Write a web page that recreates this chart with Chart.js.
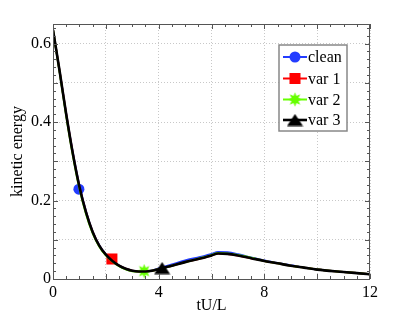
<!DOCTYPE html>
<html>
<head>
<meta charset="utf-8">
<script src="https://cdn.jsdelivr.net/npm/chart.js@4"></script>
<style>
  html, body { margin: 0; padding: 0; background: #fff; }
  #wrap { width: 409px; height: 315px; }
</style>
</head>
<body>
<div id="wrap"><canvas id="ke" width="409" height="315"></canvas></div>
<script>
// time axis (tU/L) and kinetic energy of each run
const tValues = [0, 0.25, 0.5, 0.75, 1.0, 1.25, 1.5, 1.75, 2.0, 2.25, 2.5, 2.75, 3.0, 3.25, 3.5, 3.75, 4.0, 4.5, 5.0, 5.5, 5.8, 6.0, 6.25, 6.6, 7.0, 7.5, 8.0, 8.5, 9.0, 9.5, 10.0, 11.0, 12.0];
const cleanKE = [0.635, 0.53, 0.42, 0.322, 0.238, 0.172, 0.121, 0.086, 0.062, 0.046, 0.034, 0.026, 0.021, 0.019, 0.019, 0.022, 0.027, 0.037, 0.047, 0.055, 0.06, 0.064, 0.069, 0.068, 0.063, 0.055, 0.047, 0.041, 0.035, 0.029, 0.024, 0.018, 0.012];
const var1KE  = [0.635, 0.53, 0.42, 0.32, 0.235, 0.17, 0.12, 0.085, 0.062, 0.046, 0.034, 0.026, 0.021, 0.019, 0.019, 0.021, 0.025, 0.034, 0.043, 0.051, 0.056, 0.060, 0.065, 0.064, 0.060, 0.053, 0.046, 0.040, 0.034, 0.029, 0.024, 0.018, 0.012];
const var2KE  = [0.635, 0.528, 0.416, 0.316, 0.231, 0.166, 0.117, 0.083, 0.060, 0.045, 0.033, 0.025, 0.020, 0.019, 0.019, 0.021, 0.025, 0.034, 0.043, 0.052, 0.057, 0.061, 0.066, 0.065, 0.061, 0.054, 0.046, 0.040, 0.034, 0.029, 0.024, 0.018, 0.012];
const var3KE  = [0.635, 0.53, 0.42, 0.32, 0.235, 0.17, 0.12, 0.085, 0.062, 0.046, 0.034, 0.026, 0.021, 0.019, 0.019, 0.021, 0.025, 0.034, 0.043, 0.051, 0.056, 0.060, 0.065, 0.064, 0.060, 0.053, 0.046, 0.040, 0.034, 0.029, 0.024, 0.018, 0.012];

// one marker per run
const seriesNames = ['clean', 'var 1', 'var 2', 'var 3'];
const markerT  = [0.98, 2.23, 3.45, 4.13];
const markerKE = [0.229, 0.051, 0.020, 0.028];

const xTicks = [0, 4, 8, 12];
const yTicks = [0, 0.2, 0.4, 0.6];

const colors = ['rgb(35,60,255)', 'rgb(255,0,0)', 'rgb(102,255,0)', 'rgb(0,0,0)'];
const FONT = "'Liberation Serif', 'Times New Roman', Times, 'DejaVu Serif', serif";

// custom marker images (star burst + wide triangle)
function makeStar(color) {
    const c = document.createElement('canvas');
    c.width = 15; c.height = 15;
    const g = c.getContext('2d');
    g.fillStyle = color;
    g.beginPath();
    for (let i = 0; i < 16; i++) {
        const r = i % 2 === 0 ? 7.3 : 3.8;
        const a = i * Math.PI / 8;
        const px = 7.5 + Math.sin(a) * r, py = 7.5 - Math.cos(a) * r;
        if (i === 0) g.moveTo(px, py); else g.lineTo(px, py);
    }
    g.closePath();
    g.fill();
    return c;
}
function makeTriangle(color) {
    const c = document.createElement('canvas');
    c.width = 17; c.height = 13;
    const g = c.getContext('2d');
    g.fillStyle = color;
    g.beginPath();
    g.moveTo(8.5, 0.5);
    g.lineTo(16.5, 12.5);
    g.lineTo(0.5, 12.5);
    g.closePath();
    g.fill();
    return c;
}
const starImg = makeStar(colors[2]);
const triImg = makeTriangle(colors[3]);
const markerStyles = ['circle', 'rect', starImg, triImg];
const markerRadius = [5.5, 7.8, 7, 8];

const curves = [cleanKE, var1KE, var2KE, var3KE];
const lineWidths = [2, 2, 2, 2.6];

const datasets = [];
curves.forEach((vals, i) => {
    datasets.push({
        label: seriesNames[i],
        data: tValues.map((t, k) => ({x: t, y: vals[k]})),
        borderColor: colors[i],
        borderWidth: lineWidths[i],
        pointRadius: 0,
        cubicInterpolationMode: 'monotone',
        fill: false,
        order: 8 - 2 * i
    });
    datasets.push({
        label: seriesNames[i] + ' marker',
        type: 'scatter',
        data: [{x: markerT[i], y: markerKE[i]}],
        pointStyle: markerStyles[i],
        pointRadius: markerRadius[i],
        backgroundColor: colors[i],
        borderColor: colors[i],
        borderWidth: 0,
        showLine: false,
        order: 7 - 2 * i
    });
});

function isTick(v, list) {
    return list.some(t => Math.abs(v - t) < 1e-6);
}

// box frame, inward minor ticks and the legend box
const framePlugin = {
    id: 'frame',
    afterDatasetsDraw(chart) {
        const ctx = chart.ctx;
        const a = chart.chartArea;
        const xs = chart.scales.x, ys = chart.scales.y;
        ctx.save();
        ctx.strokeStyle = '#555';
        ctx.lineWidth = 1;
        ctx.strokeRect(a.left + 0.5, a.top + 0.5, a.right - a.left - 1, a.bottom - a.top);
        ctx.beginPath();
        for (let t = 0; t <= 12.001; t += 0.5) {
            const px = Math.round(xs.getPixelForValue(t)) + 0.5;
            const len = Math.abs(t / 2 - Math.round(t / 2)) < 1e-6 ? 5 : 3;
            ctx.moveTo(px, a.bottom); ctx.lineTo(px, a.bottom - len);
            ctx.moveTo(px, a.top); ctx.lineTo(px, a.top + len);
        }
        for (let v = 0; v <= 0.65; v += 0.02) {
            const py = Math.round(ys.getPixelForValue(v)) + 0.5;
            ctx.moveTo(a.left, py); ctx.lineTo(a.left + 3, py);
            ctx.moveTo(a.right, py); ctx.lineTo(a.right - 3, py);
        }
        for (let v = 0; v <= 0.65; v += 0.1) {
            const py = Math.round(ys.getPixelForValue(v)) + 0.5;
            ctx.moveTo(a.left, py); ctx.lineTo(a.left + 5, py);
            ctx.moveTo(a.right, py); ctx.lineTo(a.right - 5, py);
        }
        ctx.stroke();

        // legend
        const bx = 279, by = 45, bw = 68, bh = 86;
        ctx.fillStyle = '#fff';
        ctx.fillRect(bx, by, bw, bh);
        ctx.strokeStyle = '#888';
        ctx.lineWidth = 1.5;
        ctx.strokeRect(bx, by, bw, bh);
        const rows = [57, 78.5, 99.5, 120];
        ctx.font = '16px ' + FONT;
        ctx.textBaseline = 'middle';
        rows.forEach((ry, i) => {
            ctx.strokeStyle = colors[i];
            ctx.lineWidth = lineWidths[i];
            ctx.beginPath();
            ctx.moveTo(283, ry); ctx.lineTo(307, ry);
            ctx.stroke();
            ctx.fillStyle = colors[i];
            if (markerStyles[i] === 'circle' || markerStyles[i] === 'rect') {
                ctx.beginPath();
                if (markerStyles[i] === 'circle') ctx.arc(295, ry, markerRadius[i], 0, Math.PI * 2);
                else { const s = markerRadius[i] * Math.SQRT1_2; ctx.rect(295 - s, ry - s, 2 * s, 2 * s); }
                ctx.fill();
            } else {
                const img = markerStyles[i];
                ctx.drawImage(img, 295 - img.width / 2, ry - img.height / 2);
            }
            ctx.fillStyle = '#000';
            ctx.fillText(seriesNames[i], 308, ry + 1);
        });
        ctx.restore();
    }
};

new Chart(document.getElementById('ke').getContext('2d'), {
    type: 'line',
    data: { datasets: datasets },
    options: {
        responsive: false,
        animation: false,
        layout: { padding: { left: 8, right: 39, top: 24, bottom: 0 } },
        plugins: {
            legend: { display: false },
            tooltip: { enabled: false }
        },
        scales: {
            x: {
                type: 'linear',
                min: 0,
                max: 12,
                afterFit: (scale) => { scale.height = 36; },
                grid: { color: '#c8c8c8', drawTicks: false },
                border: { display: false, dash: [1, 2] },
                ticks: {
                    stepSize: 2,
                    padding: 4,
                    color: '#000',
                    font: { family: FONT, size: 16 },
                    maxRotation: 0,
                    autoSkip: false,
                    callback: (v) => isTick(v, xTicks) ? String(v) : ''
                },
                title: {
                    display: true,
                    text: 'tU/L',
                    color: '#000',
                    font: { family: FONT, size: 16 },
                    padding: 0
                }
            },
            y: {
                type: 'linear',
                min: 0,
                max: 0.65,
                afterFit: (scale) => { scale.width = 45; },
                grid: { color: '#c8c8c8', drawTicks: false },
                border: { display: false, dash: [1, 2] },
                ticks: {
                    stepSize: 0.1,
                    padding: 2,
                    color: '#000',
                    font: { family: FONT, size: 16 },
                    autoSkip: false,
                    callback: (v) => isTick(v, yTicks) ? String(Math.round(v * 10) / 10) : ''
                },
                title: {
                    display: true,
                    text: 'kinetic energy',
                    color: '#000',
                    font: { family: FONT, size: 16 },
                    padding: 0
                }
            }
        }
    },
    plugins: [framePlugin]
});
</script>
</body>
</html>
